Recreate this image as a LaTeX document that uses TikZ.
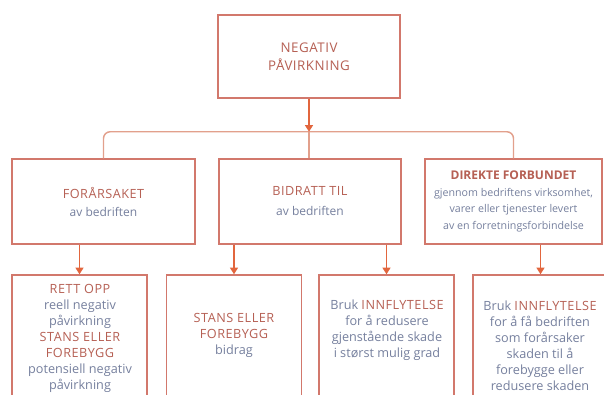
\documentclass[tikz,border=0pt]{standalone}
\usepackage{fontspec}
\setmainfont{Open Sans}
\usetikzlibrary{arrows.meta,positioning}

\definecolor{boxline}{RGB}{210,120,108}
\definecolor{headcol}{RGB}{182,96,84}
\definecolor{subcol}{RGB}{118,128,158}
\definecolor{arrowcol}{RGB}{226,102,62}
\definecolor{linkcol}{RGB}{226,160,140}

\newcommand{\hd}[1]{\textcolor{headcol}{\addfontfeatures{LetterSpace=4}#1}}

\tikzset{
  box/.style={draw=boxline, line width=1.1pt, fill=white, align=center, inner sep=0pt, text=subcol},
  topbox/.style={box, minimum width=136.5pt, minimum height=62.25pt},
  midbox/.style={box, minimum width=137.25pt, minimum height=63.75pt},
  lowbox/.style={box, minimum width=101.25pt, minimum height=108.75pt},
  lowtext/.style={align=center, inner sep=0pt, text=subcol, font=\fontsize{9.5}{12}\selectfont},
  arr/.style={draw=arrowcol, line width=1.1pt, -{Triangle[width=6pt,length=5pt]}},
  link/.style={draw=linkcol, line width=1.1pt}
}

\begin{document}
\begin{tikzpicture}[x=0.75pt,y=0.75pt,yscale=-1,xscale=1]
\useasboundingbox (0,0) rectangle (604,394);
\clip (0,0) rectangle (604,394);

% top box
\node [topbox, font=\fontsize{10}{13.5}\selectfont] (neg) at (309,56.5) {\hd{NEGATIV}\\\hd{PÅVIRKNING}};

% middle row
\node [midbox, font=\fontsize{9}{13.5}\selectfont] (cause) at (103.5,201.5) {\hd{\fontsize{9.5}{13.5}\selectfont FORÅRSAKET}\\av bedriften};
\node [midbox, minimum width=136.5pt, font=\fontsize{9}{15}\selectfont] (contrib) at (310,201.5) {\hd{\fontsize{9.5}{15}\selectfont BIDRATT TIL}\\av bedriften};
\node [midbox, minimum width=132.75pt, font=\fontsize{8}{12.4}\selectfont] (direct) at (513.5,201.5) {\textcolor{headcol}{\bfseries\fontsize{9}{12.4}\selectfont DIREKTE FORBUNDET}\\gjennom bedriftens virksomhet,\\varer eller tjenester levert\\av en forretningsforbindelse};

% bottom row
\node [lowbox] (fix) at (79.5,347.5) {};
\node [lowbox] (stop) at (234,347.5) {};
\node [lowbox] (reduce) at (386.5,347.5) {};
\node [lowbox] (press) at (540.5,347.5) {};

\node [lowtext] (fixtext) at (80,338) {\hd{RETT OPP}\\reell negativ\\påvirkning\\\hd{STANS ELLER}\\\hd{FOREBYGG}\\potensiell negativ\\påvirkning};
\node [lowtext] (stoptext) at (234,335) {\hd{STANS ELLER}\\\hd{FOREBYGG}\\bidrag};
\node [lowtext] (reducetext) at (387,330) {Bruk \hd{INNFLYTELSE}\\for å redusere\\gjenstående skade\\i størst mulig grad};
\node [lowtext] (presstext) at (540,346) {Bruk \hd{INNFLYTELSE}\\for å få bedriften\\som forårsaker\\skaden til å\\forebygge eller\\redusere skaden};

% connectors
\coordinate [below=24.75pt of neg.south] (hub);
\draw [link, rounded corners=5pt] (cause.north) |- (hub) -| (direct.north);
\draw [link] (hub) -- (hub |- contrib.north);
\draw [arr] (neg.south) -- (hub);

\draw [arr] (fix.north |- cause.south) -- (fix.north);
\draw [arr] (stop.north |- contrib.south) -- (stop.north);
\draw [arr] (reduce.north |- contrib.south) -- (reduce.north);
\draw [arr] (press.north |- direct.south) -- (press.north);

\end{tikzpicture}
\end{document}
